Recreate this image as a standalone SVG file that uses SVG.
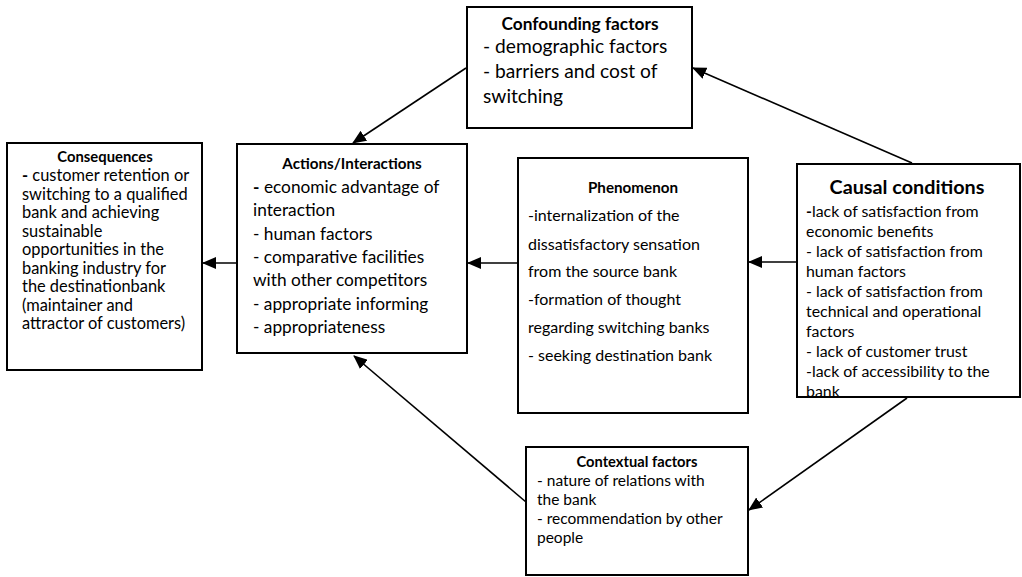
<svg xmlns="http://www.w3.org/2000/svg" width="1022" height="577" viewBox="0 0 1022 577">
<defs>
<style>
.box{fill:#fff;stroke:#000;stroke-width:2}
.t{font-family:Lato,"Liberation Sans",sans-serif;fill:#000}
.h{font-weight:bold;text-anchor:middle}
.c{stroke:#000;stroke-width:1.6;fill:none;marker-end:url(#ah)}
</style>
<marker id="ah" markerUnits="userSpaceOnUse" markerWidth="14" markerHeight="12" refX="13" refY="6" orient="auto">
<path d="M0,0 L14,6 L0,12 Z" fill="#000"/>
</marker>
<clipPath id="cc"><rect x="797" y="164" width="223" height="232"/></clipPath>
</defs>
<rect width="1022" height="577" fill="#fff"/>

<g id="connectors">
<line class="c" x1="912" y1="163" x2="693" y2="68"/>
<line class="c" x1="466" y1="68" x2="353" y2="143"/>
<line class="c" x1="518" y1="263" x2="468" y2="263"/>
<line class="c" x1="237" y1="263" x2="203" y2="263"/>
<line class="c" x1="797" y1="262" x2="749" y2="262"/>
<line class="c" x1="526" y1="502" x2="354" y2="356"/>
<line class="c" x1="907" y1="398" x2="749" y2="510"/>
</g>

<g id="confounding">
<rect class="box" x="467" y="7" width="225" height="121"/>
<text class="t h" x="580" y="30" font-size="17.3">Confounding factors</text>
<text class="t" x="483" font-size="19.2"><tspan x="483" y="53">- demographic factors</tspan><tspan x="483" y="78">- barriers and cost of</tspan><tspan x="483" y="103">switching</tspan></text>
</g>

<g id="consequences">
<rect class="box" x="7" y="143" width="195" height="227"/>
<text class="t h" x="105" y="162" font-size="14.8">Consequences</text>
<text class="t" font-size="16.4"><tspan x="22" y="181"><tspan font-weight="bold">-</tspan> customer retention or</tspan><tspan x="22" y="199.5">switching to a qualified</tspan><tspan x="22" y="218">bank and achieving</tspan><tspan x="22" y="236.5">sustainable</tspan><tspan x="22" y="255">opportunities in the</tspan><tspan x="22" y="273.5">banking industry for</tspan><tspan x="22" y="292">the destinationbank</tspan><tspan x="22" y="310.5">(maintainer and</tspan><tspan x="22" y="329">attractor of customers)</tspan></text>
</g>

<g id="actions">
<rect class="box" x="237" y="144" width="230" height="209"/>
<text class="t h" x="352" y="169" font-size="15.2">Actions/Interactions</text>
<text class="t" font-size="17.3"><tspan x="253" y="193"><tspan font-weight="bold">-</tspan> economic advantage of</tspan><tspan x="253" y="216">interaction</tspan><tspan x="253" y="239.5">- human factors</tspan><tspan x="253" y="263">- comparative facilities</tspan><tspan x="253" y="286">with other competitors</tspan><tspan x="253" y="309.5">- appropriate informing</tspan><tspan x="253" y="333">- appropriateness</tspan></text>
</g>

<g id="phenomenon">
<rect class="box" x="518" y="158" width="230" height="255"/>
<text class="t h" x="633" y="193" font-size="15.2">Phenomenon</text>
<text class="t" font-size="16"><tspan x="528" y="221">-internalization of the</tspan><tspan x="528" y="250">dissatisfactory sensation</tspan><tspan x="528" y="277">from the source bank</tspan><tspan x="528" y="305">-formation of thought</tspan><tspan x="528" y="333">regarding switching banks</tspan><tspan x="528" y="361">- seeking destination bank</tspan></text>
</g>

<g id="causal">
<rect class="box" x="797" y="164" width="223" height="233"/>
<text class="t h" x="907" y="194" font-size="19.8">Causal conditions</text>
<g clip-path="url(#cc)">
<text class="t" font-size="15.9"><tspan x="806" y="217"><tspan font-weight="bold">-</tspan>lack of satisfaction from</tspan><tspan x="806" y="237">economic benefits</tspan><tspan x="806" y="257">- lack of satisfaction from</tspan><tspan x="806" y="277">human factors</tspan><tspan x="806" y="297">- lack of satisfaction from</tspan><tspan x="806" y="317">technical and operational</tspan><tspan x="806" y="337">factors</tspan><tspan x="806" y="357">- lack of customer trust</tspan><tspan x="806" y="377">-lack of accessibility to the</tspan><tspan x="806" y="397">bank</tspan></text>
</g>
</g>

<g id="contextual">
<rect class="box" x="526" y="447" width="222" height="128"/>
<text class="t h" x="637" y="467" font-size="14.7">Contextual factors</text>
<text class="t" font-size="15.5"><tspan x="537" y="486">- nature of relations with</tspan><tspan x="537" y="505">the bank</tspan><tspan x="537" y="524">- recommendation by other</tspan><tspan x="537" y="543">people</tspan></text>
</g>
</svg>
